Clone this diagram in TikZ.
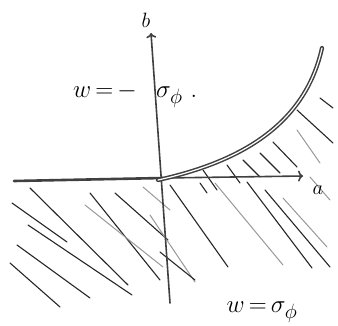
\documentclass[tikz,border=0pt]{standalone}
\usetikzlibrary{arrows.meta}
\begin{document}
\begin{tikzpicture}[x=1pt,y=-1pt,
  hatch/.style={black!85, line width=1.1pt, line cap=round},
  hatchlight/.style={black!40, line width=1.0pt, line cap=round},
  axisline/.style={black!75, line width=1.6pt, line cap=round},
  curveline/.style={black!75, line width=1.5pt, double=white, double distance=1.2pt, line cap=round},
  lbl/.style={font=\fontsize{28}{32}\selectfont, inner sep=0pt},
  axlbl/.style={font=\fontsize{22}{26}\selectfont, inner sep=0pt}]
\useasboundingbox (0,0) rectangle (338,325);
\fill[white] (0,0) rectangle (338,325);

% coordinates
\coordinate (O) at (163,178);
\coordinate (aL) at (14,181);
\coordinate (aR) at (303,176);
\coordinate (bB) at (170,303);
\coordinate (bT) at (151,33);
\coordinate (cE) at (322,48);

% hatching below the a-axis (left)
\draw[hatch] (12,203) -- (67,242);
\draw[hatch] (30,188) -- (128,285);
\draw[hatch] (28,225) -- (132,295);
\draw[hatch] (17,245) -- (90,298);
\draw[hatch] (10,263) -- (60,307);
\draw[hatch] (90,193) -- (160,280);
\draw[hatchlight] (85,205) -- (163,267);
\draw[hatch] (115,193) -- (168,240);
\draw[hatchlight] (143,187) -- (170,210);

% hatching below the a-axis (right)
\draw[hatch] (170,185) -- (228,267);
\draw[hatch] (200,183) -- (207,193);
\draw[hatchlight] (215,183) -- (283,265);
\draw[hatch] (247,182) -- (312,268);
\draw[hatch] (265,190) -- (330,267);
\draw[hatchlight] (283,198) -- (327,247);
\draw[hatchlight] (150,215) -- (195,282);
\draw[hatch] (160,252) -- (195,280);

% hatching between curve and a-axis
\draw[hatch] (203,170) -- (217,190);
\draw[hatch] (227,165) -- (240,183);
\draw[hatch] (243,160) -- (260,177);
\draw[hatch] (260,153) -- (280,173);
\draw[hatch] (273,142) -- (297,167);

% hatching right of the curve
\draw[hatch] (297,110) -- (333,143);
\draw[hatch] (320,98) -- (333,108);
\draw[hatchlight] (297,130) -- (320,163);
\draw[hatchlight] (310,177) -- (330,200);

% axes
\draw[axisline, line width=2.6pt] (aL) -- (O);
\draw[axisline, -{To[length=5pt,width=11pt]}] (O) -- (aR);
\draw[axisline, -{To[length=5pt,width=10pt]}] (bB) -- (bT);

% curve
\draw[curveline] (158,180) .. controls (240,162) and (305,125) .. (cE);

% labels
\node[axlbl] (la) at (318,190) {$a$};
\node[axlbl] (lb) at (146,20) {$b$};
\node[lbl, anchor=east] (wl) at (137,91) {$w\,{=}\,{-}$};
\node[lbl, anchor=west] (ws) at (156,97) {$\sigma_{\phi}$\;.};
\node[lbl] (wb) at (262,312) {$w\,{=}\,\sigma_{\phi}$};
\end{tikzpicture}
\end{document}
